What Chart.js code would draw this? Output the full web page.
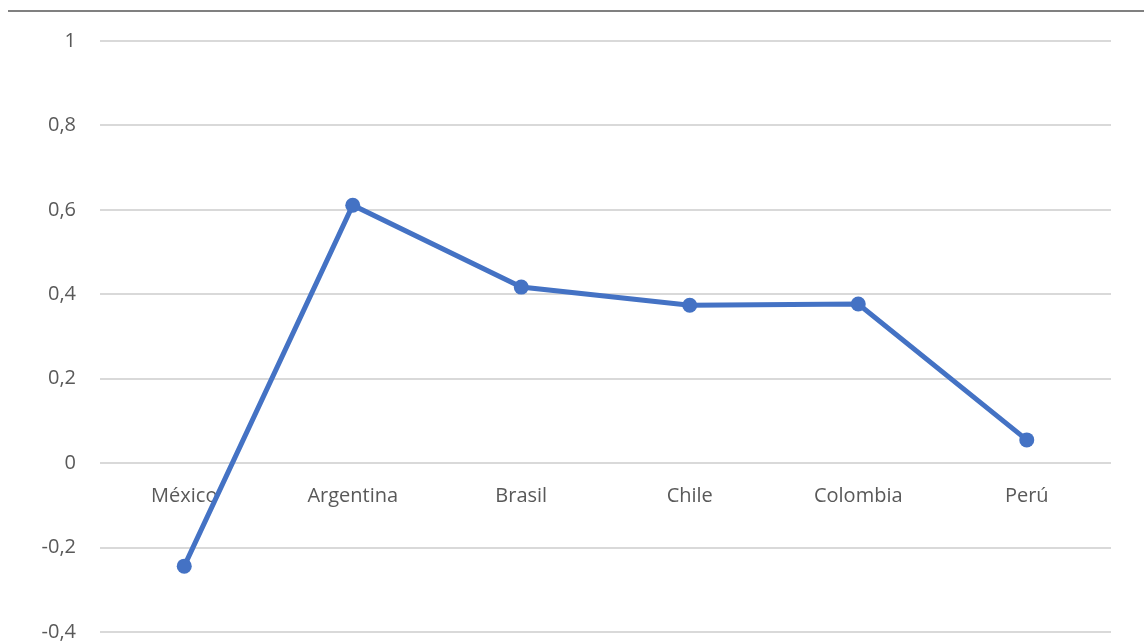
<!DOCTYPE html>
<html>
<head>
<meta charset="utf-8">
<script src="https://cdn.jsdelivr.net/npm/chart.js@4/dist/chart.umd.min.js"></script>
<style>
html,body{margin:0;padding:0;background:#fff;}
#wrap{width:1144px;height:641px;position:relative;}
</style>
</head>
<body>
<div id="wrap"><canvas id="c" width="1144" height="641"></canvas></div>
<script>
const categories = ["México", "Argentina", "Brasil", "Chile", "Colombia", "Perú"];
const values = [-0.244, 0.611, 0.417, 0.374, 0.377, 0.055];
const yTickValues = [-0.4, -0.2, 0, 0.2, 0.4, 0.6, 0.8, 1];
const yTickLabels = ["-0,4", "-0,2", "0", "0,2", "0,4", "0,6", "0,8", "1"];

const topLine = {
  id: 'topLine',
  afterDraw(chart) {
    const ctx = chart.ctx;
    ctx.save();
    ctx.strokeStyle = '#808080';
    ctx.lineWidth = 2;
    ctx.beginPath();
    ctx.moveTo(8, 11);
    ctx.lineTo(1144, 11);
    ctx.stroke();
    ctx.restore();
  }
};

const FONT = "'Open Sans', sans-serif";

new Chart(document.getElementById('c'), {
  type: 'line',
  data: {
    labels: categories,
    datasets: [{
      data: values,
      borderColor: '#4472C4',
      backgroundColor: '#4472C4',
      borderWidth: 5,
      pointRadius: 7.5,
      pointHoverRadius: 7.5,
      pointBackgroundColor: '#4472C4',
      pointBorderWidth: 0,
      tension: 0,
      clip: false
    }]
  },
  options: {
    responsive: false,
    animation: false,
    devicePixelRatio: 1,
    layout: { padding: { left: 0, right: 33, top: 41, bottom: 9 } },
    plugins: { legend: { display: false }, tooltip: { enabled: false } },
    scales: {
      x: {
        position: { y: 0 },
        offset: true,
        afterFit(scale) {
          scale.paddingLeft = 0;
          scale.paddingRight = 0;
        },
        grid: { display: false, drawTicks: false, offset: true },
        border: { display: false },
        ticks: { color: '#595959', font: { family: FONT, size: 20 }, padding: 21, maxRotation: 0 }
      },
      y: {
        min: -0.4,
        max: 1,
        afterBuildTicks(scale) {
          scale.ticks = yTickValues.map(v => ({ value: v }));
        },
        afterFit(scale) {
          scale.width = 100;
          scale.paddingTop = 0;
          scale.paddingBottom = 0;
        },
        grid: { color: '#d9d9d9', lineWidth: 2, drawTicks: false },
        border: { display: false },
        ticks: {
          color: '#595959',
          font: { family: FONT, size: 20 },
          padding: 24,
          callback(value) {
            const i = yTickValues.findIndex(v => Math.abs(v - value) < 1e-9);
            return i >= 0 ? yTickLabels[i] : '';
          }
        }
      }
    }
  },
  plugins: [topLine]
});
</script>
</body>
</html>
